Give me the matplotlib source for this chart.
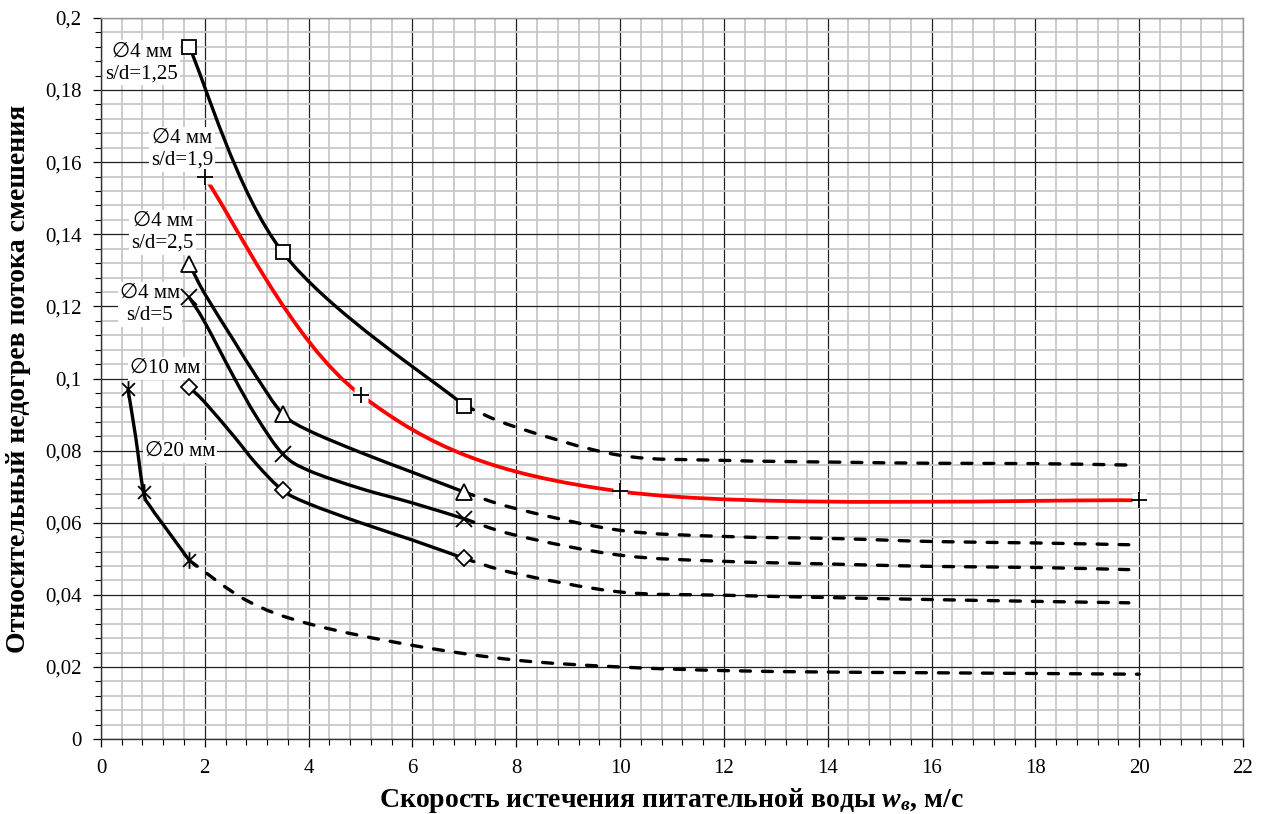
import numpy as np
import matplotlib
matplotlib.use("Agg")
import matplotlib.pyplot as plt
from matplotlib.path import Path
from matplotlib.patches import PathPatch
from matplotlib.ticker import MultipleLocator, FuncFormatter

plt.rcParams['font.family'] = ['Liberation Serif', 'DejaVu Sans']
plt.rcParams['mathtext.fontset'] = 'custom'
plt.rcParams['mathtext.rm'] = 'Liberation Serif'
plt.rcParams['mathtext.it'] = 'Liberation Serif:italic'
plt.rcParams['mathtext.bf'] = 'Liberation Serif:bold'
plt.rcParams['mathtext.bfit'] = 'Liberation Serif:italic:bold'

# --- точки эксперимента (маркеры) ---
x_pts = [1.7, 3.5, 7.0]
y_sd125 = [0.192, 0.135, 0.0925]
y_sd25 = [0.1318, 0.0902, 0.0685]
y_sd5 = [0.1225, 0.0791, 0.0611]
y_d10 = [0.0976, 0.0690, 0.0501]

x_d20 = [0.52, 0.82, 1.7]
y_d20 = [0.0971, 0.0685, 0.0496]

x_sd19 = [2.0, 5.0, 10.0, 20.0]
y_sd19 = [0.1558, 0.0955, 0.0687, 0.0662]

# --- сплошные кривые, точки ---
xs_sd25 = [1.7, 2.0, 2.56, 3.0, 3.5, 4.0, 5.0, 6.0, 7.0]
ys_sd25 = [0.1318, 0.1235, 0.1105, 0.1004, 0.0902, 0.0856, 0.0795, 0.0740, 0.0685]

xs_sd5 = [1.7, 2.0, 2.56, 3.0, 3.5, 4.0, 5.0, 6.0, 7.0]
ys_sd5 = [0.1225, 0.1156, 0.1004, 0.0893, 0.0791, 0.0745, 0.0695, 0.0655, 0.0611]

xs_d10 = [1.7, 2.0, 2.56, 3.0, 3.5, 4.0, 5.0, 6.0, 7.0]
ys_d10 = [0.0976, 0.0934, 0.0840, 0.0762, 0.0690, 0.0653, 0.0600, 0.0552, 0.0501]

xs_d20 = [0.52, 0.67, 0.82, 0.96, 1.28, 1.7]
ys_d20 = [0.0971, 0.0837, 0.0685, 0.0643, 0.0579, 0.0496]

# --- экстраполяция (пунктир) ---
xd = [7.0, 8.0, 10.0, 12.0, 14.2, 16.0, 18.0, 19.8]
yd_sd125 = [0.0925, 0.0865, 0.0787, 0.0773, 0.0768, 0.0765, 0.0764, 0.0760]
yd_sd25 = [0.0685, 0.0639, 0.0579, 0.0562, 0.0556, 0.0548, 0.0544, 0.0539]
yd_sd5 = [0.0611, 0.0565, 0.0510, 0.0493, 0.0485, 0.0479, 0.0476, 0.0470]
yd_d10 = [0.0501, 0.0459, 0.0408, 0.0399, 0.0392, 0.0387, 0.0382, 0.0378]

xd_d20 = [1.7, 2.8, 4.0, 6.0, 8.0, 10.0, 12.0, 14.0, 16.0, 18.0, 20.0]
yd_d20 = [0.0496, 0.0385, 0.0320, 0.0260, 0.0219, 0.0200, 0.0190, 0.0186,
          0.0184, 0.0182, 0.0180]

labels = ["\u22054 мм\ns/d=1,25", "\u22054 мм\ns/d=1,9", "\u22054 мм\ns/d=2,5",
          "\u22054 мм\ns/d=5", "\u220510 мм", "\u220520 мм"]
label_xy = [(0.79, 0.1875), (1.56, 0.1635), (1.19, 0.1405), (0.94, 0.1205),
            (1.23, 0.1028), (1.52, 0.0798)]

# маркер "снежинка" (X с вертикальной чертой)
star = Path([(-1, -1), (1, 1), (-1, 1), (1, -1), (0, -1.3), (0, 1.3)],
            [Path.MOVETO, Path.LINETO, Path.MOVETO, Path.LINETO, Path.MOVETO, Path.LINETO])


def smooth_line(ax, xs, ys, **kw):
    # сглаженная линия через точки (кривые Безье, как в Excel)
    P = np.column_stack([np.asarray(xs, float), np.asarray(ys, float)])
    n = len(P)
    verts = [tuple(P[0])]
    codes = [Path.MOVETO]
    for i in range(n - 1):
        p0 = P[i - 1] if i > 0 else P[i]
        p3 = P[i + 2] if i + 2 < n else P[i + 1]
        c1 = P[i] + (P[i + 1] - p0) / 6
        c2 = P[i + 1] - (p3 - P[i]) / 6
        verts += [tuple(c1), tuple(c2), tuple(P[i + 1])]
        codes += [Path.CURVE4] * 3
    ax.add_patch(PathPatch(Path(verts, codes), fill=False, **kw))


fig = plt.figure(figsize=(12.65, 8.14), dpi=100)
ax = fig.add_axes([0.0798, 0.092, 0.9028, 0.886])

lw = 2.4
dash = (0, (3.0, 3.6))

# сплошные кривые
smooth_line(ax, x_pts, y_sd125, edgecolor="black", lw=lw, zorder=3)
for xx, yy in [(xs_sd25, ys_sd25), (xs_sd5, ys_sd5), (xs_d10, ys_d10), (xs_d20, ys_d20)]:
    smooth_line(ax, xx, yy, edgecolor="black", lw=lw, zorder=3)
smooth_line(ax, x_sd19, y_sd19, edgecolor="red", lw=lw + 0.3, zorder=3)

# пунктир
for yy in [yd_sd125, yd_sd25, yd_sd5, yd_d10]:
    smooth_line(ax, xd, yy, edgecolor="black", lw=lw, linestyle=dash,
                capstyle="round", zorder=3)
smooth_line(ax, xd_d20, yd_d20, edgecolor="black", lw=lw, linestyle=dash,
            capstyle="round", zorder=3)

# маркеры
ax.plot(x_pts, y_sd125, ls="none", marker="s", ms=10, mfc="white", mec="black", mew=1.3, zorder=4)
ax.plot(x_pts, y_sd25, ls="none", marker="^", ms=11, mfc="white", mec="black", mew=1.3, zorder=4)
ax.plot(x_pts, y_sd5, ls="none", marker="x", ms=11, mec="black", mew=1.3, zorder=4)
ax.plot(x_pts, y_d10, ls="none", marker="D", ms=8, mfc="white", mec="black", mew=1.3, zorder=4)
ax.plot(x_d20, y_d20, ls="none", marker=star, ms=12, mec="black", mew=1.3, zorder=4)
ax.plot(x_sd19, y_sd19, ls="none", marker="s", ms=10, mfc="white", mec="none", zorder=3.5)
ax.plot(x_sd19, y_sd19, ls="none", marker="+", ms=12, mec="black", mew=1.3, zorder=4)

# подписи кривых
for txt, (tx, ty) in zip(labels, label_xy):
    ax.text(tx, ty, txt, fontsize=15, ha="center", va="center", multialignment="center",
            linespacing=1.2, zorder=3.8,
            bbox=dict(facecolor="white", edgecolor="none", pad=1.5))

ax.set_xlim(0, 22)
ax.set_ylim(0, 0.2)
ax.xaxis.set_major_locator(MultipleLocator(2))
ax.xaxis.set_minor_locator(MultipleLocator(0.4))
ax.yaxis.set_major_locator(MultipleLocator(0.02))
ax.yaxis.set_minor_locator(MultipleLocator(0.004))


def fmt(v, pos):
    s = f"{v:.2f}".rstrip("0").rstrip(".")
    return s.replace(".", ",")


ax.yaxis.set_major_formatter(FuncFormatter(fmt))
ax.xaxis.set_major_formatter(FuncFormatter(lambda v, p: f"{v:.0f}"))

ax.grid(which="minor", color="#c8c8c8", lw=1.3, zorder=0)
ax.grid(which="major", color="#222222", lw=0.9, zorder=1)
ax.set_axisbelow(True)
ax.tick_params(which="major", direction="out", length=6, width=0.9, labelsize=15, pad=8)
ax.tick_params(which="minor", direction="out", length=4, width=0.8)

for s in ["top", "right"]:
    ax.spines[s].set_color("#999999")
    ax.spines[s].set_linewidth(1.0)
for s in ["left", "bottom"]:
    ax.spines[s].set_color("#333333")
    ax.spines[s].set_linewidth(1.0)

ax.set_xlabel("Скорость истечения питательной воды $\\mathbfit{w_в}$, м/с",
              fontsize=20, fontweight="bold", labelpad=6)
ax.set_ylabel("Относительный недогрев потока смешения", fontsize=20,
              fontweight="bold", labelpad=10)

fig.savefig("out.png", dpi=100)
